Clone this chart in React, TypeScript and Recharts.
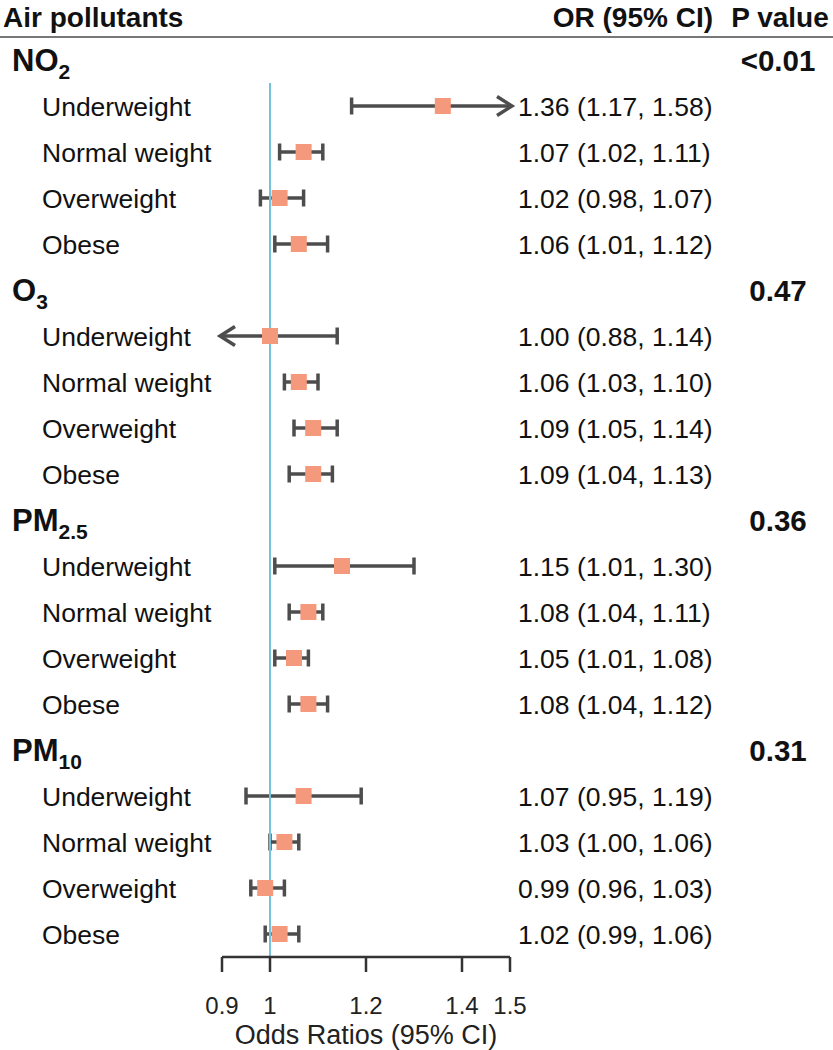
import React from 'react';
import { ComposedChart, Bar, Line, XAxis, YAxis, ReferenceLine } from 'recharts';

const FONT = '"Liberation Sans", Arial, Helvetica, sans-serif';

const pollutantNames = ['NO', 'O', 'PM', 'PM'];
const pollutantSubs = ['2', '3', '2.5', '10'];
const pValues = ['<0.01', '0.47', '0.36', '0.31'];
const weightGroups = ['Underweight', 'Normal weight', 'Overweight', 'Obese'];

// one inner array per pollutant, in weightGroups order
const oddsRatios = [
    [1.36, 1.07, 1.02, 1.06],
    [1.0, 1.06, 1.09, 1.09],
    [1.15, 1.08, 1.05, 1.08],
    [1.07, 1.03, 0.99, 1.02],
];
const lowerCI = [
    [1.17, 1.02, 0.98, 1.01],
    [0.88, 1.03, 1.05, 1.04],
    [1.01, 1.04, 1.01, 1.04],
    [0.95, 1.0, 0.96, 0.99],
];
const upperCI = [
    [1.58, 1.11, 1.07, 1.12],
    [1.14, 1.1, 1.14, 1.13],
    [1.3, 1.11, 1.08, 1.12],
    [1.19, 1.06, 1.03, 1.06],
];
const xTicks = [0.9, 1, 1.2, 1.4, 1.5];
const X_MIN = 0.9;
const X_MAX = 1.5;

const rows: any[] = [];
pollutantNames.forEach((name, g) => {
    rows.push({ id: `g${g}`, kind: 'group', name, sub: pollutantSubs[g], p: pValues[g] });
    weightGroups.forEach((label, s) => {
        const or = oddsRatios[g][s];
        const lo = lowerCI[g][s];
        const hi = upperCI[g][s];
        rows.push({
            id: `g${g}s${s}`,
            kind: 'row',
            label,
            or,
            lo,
            hi,
            // CI clipped to the axis limits, arrows mark the clipped ends
            range: [Math.max(lo, X_MIN), Math.min(hi, X_MAX)],
            text: `${or.toFixed(2)} (${lo.toFixed(2)}, ${hi.toFixed(2)})`,
        });
    });
});
const rowById: Record<string, any> = Object.fromEntries(rows.map((r) => [r.id, r]));

const INK = '#111';
const WHISKER = '#4d4d4d';
const BOX = '#F4997B';

const LeftTick = (props: any) => {
    const r = rowById[props.payload?.value];
    if (!r) return <g />;
    const y = props.y;
    if (r.kind === 'group') {
        return (
            <text x={12} y={y + 11} fontFamily={FONT} fontSize={31} fontWeight="bold" fill={INK}>
                {r.name}
                <tspan fontSize={21} dy={8}>{r.sub}</tspan>
            </text>
        );
    }
    return (
        <text x={42} y={y + 9.5} fontFamily={FONT} fontSize={26.5} fill={INK}>
            {r.label}
        </text>
    );
};

const RightTick = (props: any) => {
    const r = rowById[props.payload?.value];
    if (!r) return <g />;
    const y = props.y;
    if (r.kind === 'group') {
        return (
            <text x={778} y={y + 10.5} textAnchor="middle" fontFamily={FONT} fontSize={29.5} fontWeight="bold" fill={INK}>
                {r.p}
            </text>
        );
    }
    return (
        <text x={518} y={y + 9.5} fontFamily={FONT} fontSize={26.5} fill={INK}>
            {r.text}
        </text>
    );
};

const CIShape = (props: any) => {
    const { x, y, width, height, payload } = props;
    if (!payload || payload.kind !== 'row' || !isFinite(x) || !isFinite(width)) return <g />;
    const cy = y + height / 2;
    const x1 = x;
    const x2 = x + width;
    const cap = 8.5;
    const ah = 15;
    const aw = 9.5;
    return (
        <g stroke={WHISKER} strokeWidth={3.5} fill="none">
            <line x1={x1} y1={cy} x2={x2} y2={cy} />
            {payload.lo < X_MIN ? (
                <polyline points={`${x1 + ah - 2},${cy - aw} ${x1 - 2},${cy} ${x1 + ah - 2},${cy + aw}`} />
            ) : (
                <line x1={x1} y1={cy - cap} x2={x1} y2={cy + cap} />
            )}
            {payload.hi > X_MAX ? (
                <polyline points={`${x2 - ah + 2},${cy - aw} ${x2 + 2},${cy} ${x2 - ah + 2},${cy + aw}`} />
            ) : (
                <line x1={x2} y1={cy - cap} x2={x2} y2={cy + cap} />
            )}
        </g>
    );
};

const SquareDot = (props: any) => {
    const { cx, cy, payload, index } = props;
    if (payload?.or == null || cx == null || cy == null) return <g key={`d${index}`} />;
    return <rect key={`d${index}`} x={cx - 8} y={cy - 8} width={16} height={16} fill={BOX} />;
};

// starts one row lower so it skips the first pollutant heading
const NullLine = (p: any) => {
    const top = Math.min(p.y1, p.y2);
    const bottom = Math.max(p.y1, p.y2);
    const band = (bottom - top) / rows.length;
    return <line x1={p.x1} x2={p.x2} y1={top + band} y2={bottom} stroke="#74c3d9" strokeWidth={2} />;
};

export default function App() {
    return (
        <div style={{ position: 'absolute', left: 0, top: 0, width: 833, height: 1050, background: '#fff', fontFamily: FONT }}>
            <div style={{ position: 'absolute', left: 3, top: 4, fontSize: 28, lineHeight: '28px', fontWeight: 'bold', color: INK }}>
                Air pollutants
            </div>
            <div style={{ position: 'absolute', right: 120, top: 4, fontSize: 28, lineHeight: '28px', fontWeight: 'bold', color: INK }}>
                OR (95% CI)
            </div>
            <div style={{ position: 'absolute', left: 727, width: 106, top: 4, textAlign: 'center', fontSize: 28, lineHeight: '28px', fontWeight: 'bold', color: INK }}>
                P value
            </div>
            <div style={{ position: 'absolute', left: 0, top: 36, width: 833, height: 2, background: '#777' }} />

            <ComposedChart
                layout="vertical"
                width={833}
                height={1050}
                data={rows}
                margin={{ top: 37, right: 0, bottom: 0, left: 0 }}
            >
                <XAxis
                    type="number"
                    domain={[X_MIN, X_MAX]}
                    ticks={xTicks}
                    interval={0}
                    height={93}
                    tickSize={15}
                    tickMargin={25}
                    axisLine={{ stroke: '#333', strokeWidth: 2.5 }}
                    tickLine={{ stroke: '#333', strokeWidth: 2.5 }}
                    tick={{ fontSize: 24, fill: '#222', fontFamily: FONT }}
                    label={{ value: 'Odds Ratios (95% CI)', position: 'insideBottom', offset: 6, fontSize: 27, fill: '#222', fontFamily: FONT }}
                />
                <YAxis
                    yAxisId="left"
                    type="category"
                    dataKey="id"
                    width={222}
                    axisLine={false}
                    tickLine={false}
                    interval={0}
                    tick={<LeftTick />}
                />
                <YAxis
                    yAxisId="right"
                    orientation="right"
                    type="category"
                    dataKey="id"
                    width={323}
                    axisLine={false}
                    tickLine={false}
                    interval={0}
                    tick={<RightTick />}
                />
                <ReferenceLine yAxisId="left" x={1} shape={NullLine} />
                <Bar yAxisId="left" dataKey="range" barSize={20} shape={CIShape} isAnimationActive={false} />
                <Line
                    yAxisId="right"
                    dataKey="or"
                    stroke="none"
                    dot={SquareDot}
                    activeDot={false}
                    isAnimationActive={false}
                />
            </ComposedChart>
        </div>
    );
}
